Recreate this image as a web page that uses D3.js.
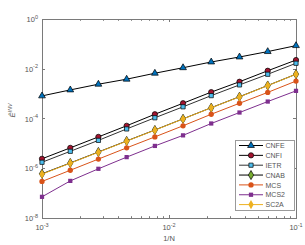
<!DOCTYPE html>
<html>
<head>
<meta charset="utf-8">
<script src="https://cdn.jsdelivr.net/npm/d3@7"></script>
<style>
  body { margin: 0; background: #fff; }
  svg { display: block; font-family: "Liberation Sans", Arial, sans-serif; }
</style>
</head>
<body>
<svg id="chart" width="305" height="245"></svg>
<script>
// step sizes 1/N
const invN = [0.001, 0.00167, 0.00278, 0.00464, 0.00774, 0.0129, 0.0215, 0.0359, 0.0599, 0.1];

const cnfe = [8.1e-4, 1.41e-3, 2.39e-3, 3.8e-3, 6.6e-3, 1.1e-2, 1.87e-2, 2.97e-2, 4.9e-2, 8.5e-2];
const cnfi = [2.4e-6, 6.6e-6, 1.82e-5, 5.1e-5, 1.48e-4, 4.1e-4, 1.15e-3, 3.0e-3, 8.3e-3, 2.24e-2];
const ietr = [1.74e-6, 4.8e-6, 1.32e-5, 3.8e-5, 1.07e-4, 2.95e-4, 8.3e-4, 2.24e-3, 6.0e-3, 1.66e-2];
const cnab = [6.0e-7, 1.63e-6, 4.5e-6, 1.25e-5, 3.45e-5, 9.7e-5, 2.72e-4, 7.5e-4, 2.12e-3, 6.05e-3];
const mcs = [2.95e-7, 8.3e-7, 2.34e-6, 6.6e-6, 1.82e-5, 5.1e-5, 1.48e-4, 4.1e-4, 1.12e-3, 3.2e-3];
const mcs2 = [7.1e-8, 3.1e-7, 9.5e-7, 2.8e-6, 7.9e-6, 2.1e-5, 6.3e-5, 1.74e-4, 4.8e-4, 1.29e-3];
const sc2a = [5.8e-7, 1.6e-6, 4.4e-6, 1.23e-5, 3.4e-5, 9.6e-5, 2.7e-4, 7.4e-4, 2.1e-3, 6.0e-3];

const xTicks = [1e-3, 1e-2, 1e-1];
const xTickExp = ['-3', '-2', '-1'];
const yTicks = [1e0, 1e-2, 1e-4, 1e-6, 1e-8];
const yTickExp = ['0', '-2', '-4', '-6', '-8'];

const series = [
  {name: 'CNFE', values: cnfe, line: '#000', fill: '#0072BD', edge: '#000', shape: 'triangle'},
  {name: 'CNFI', values: cnfi, line: '#000', fill: '#A2142F', edge: '#000', shape: 'circle'},
  {name: 'IETR', values: ietr, line: '#333', fill: '#4DBEEE', edge: '#000', shape: 'square'},
  {name: 'CNAB', values: cnab, line: '#000', fill: '#77AC30', edge: '#000', shape: 'diamond'},
  {name: 'MCS', values: mcs, line: '#D95319', fill: '#D95319', edge: 'none', shape: 'circle'},
  {name: 'MCS2', values: mcs2, line: '#7E2F8E', fill: '#7E2F8E', edge: 'none', shape: 'square'},
  {name: 'SC2A', values: sc2a, line: '#EDB120', fill: '#EDB120', edge: 'none', shape: 'diamond'}
];

const margin = {top: 19, right: 9, bottom: 27, left: 42};
const svg = d3.select('#chart');
const W = +svg.attr('width'), H = +svg.attr('height');
const w = W - margin.left - margin.right;
const h = H - margin.top - margin.bottom;
const axisColor = '#7a7a7a';
const textColor = '#555';

const x = d3.scaleLog().domain([1e-3, 1e-1]).range([0, w]);
const y = d3.scaleLog().domain([1e-8, 1e0]).range([h, 0]);

const g = svg.append('g').attr('transform', `translate(${margin.left},${margin.top})`);

// minor x ticks
const xMinor = x.ticks().filter(t => !xTicks.some(m => Math.abs(m - t) / m < 1e-6));

function drawAxes() {
  const axes = g.append('g').attr('class', 'axes');
  axes.append('rect').attr('x', 0.5).attr('y', 0.5).attr('width', w).attr('height', h)
      .attr('fill', 'none').attr('stroke', axisColor).attr('stroke-width', 1);
  // x ticks bottom + top
  [[h, -1], [0, 1]].forEach(([y0, dir]) => {
    axes.selectAll(null).data(xTicks).enter().append('line')
        .attr('x1', d => Math.round(x(d)) + 0.5).attr('x2', d => Math.round(x(d)) + 0.5)
        .attr('y1', y0).attr('y2', y0 + dir * 3).attr('stroke', axisColor);
    axes.selectAll(null).data(xMinor).enter().append('line')
        .attr('x1', d => Math.round(x(d)) + 0.5).attr('x2', d => Math.round(x(d)) + 0.5)
        .attr('y1', y0).attr('y2', y0 + dir * 1.8).attr('stroke', axisColor);
  });
  // y ticks left + right
  [[0, 1], [w, -1]].forEach(([x0, dir]) => {
    axes.selectAll(null).data(yTicks).enter().append('line')
        .attr('y1', d => Math.round(y(d)) + 0.5).attr('y2', d => Math.round(y(d)) + 0.5)
        .attr('x1', x0).attr('x2', x0 + dir * 3).attr('stroke', axisColor);
  });

  const xl = axes.selectAll(null).data(xTicks).enter().append('text')
      .attr('x', d => x(d)).attr('y', h + 12)
      .attr('text-anchor', 'middle').attr('font-size', 7.5).attr('fill', textColor);
  xl.append('tspan').text('10');
  xl.append('tspan').attr('dy', -3.5).attr('font-size', 5.5).text((d, i) => xTickExp[i]);

  const yl = axes.selectAll(null).data(yTicks).enter().append('text')
      .attr('x', -4).attr('y', d => y(d) + 3)
      .attr('text-anchor', 'end').attr('font-size', 7.5).attr('fill', textColor);
  yl.append('tspan').text('10');
  yl.append('tspan').attr('dy', -3.5).attr('font-size', 5.5).text((d, i) => yTickExp[i]);

  axes.append('text').attr('x', w / 2).attr('y', h + 23)
      .attr('text-anchor', 'middle').attr('font-size', 7.5).attr('fill', textColor).text('1/N');
  const yt = axes.append('text')
      .attr('transform', `translate(${-27},${h / 2 - 8}) rotate(-90)`)
      .attr('text-anchor', 'middle').attr('font-size', 7.5).attr('fill', textColor)
      .attr('font-style', 'italic');
  yt.append('tspan').text('Ê');
  yt.append('tspan').attr('dy', -3).attr('font-size', 5.5).text('INV');
}

function symbolFor(shape) {
  if (shape === 'triangle') return d3.symbol(d3.symbolTriangle, 20);
  if (shape === 'circle') return d3.symbol(d3.symbolCircle, 22);
  if (shape === 'square') return d3.symbol(d3.symbolSquare, 18);
  return d3.symbol(d3.symbolDiamond, 24);
}

function drawSeries() {
  const line = d3.line().x(d => x(d[0])).y(d => y(d[1]));
  series.forEach(s => {
    const pts = invN.map((v, i) => [v, s.values[i]]);
    const sg = g.append('g').attr('class', 'series');
    sg.append('path').datum(pts).attr('d', line)
        .attr('fill', 'none').attr('stroke', s.line).attr('stroke-width', 1);
    sg.selectAll('path.m').data(pts).enter().append('path').attr('class', 'm')
        .attr('transform', d => `translate(${x(d[0])},${y(d[1])})`)
        .attr('d', symbolFor(s.shape))
        .attr('fill', s.fill).attr('stroke', s.edge).attr('stroke-width', 0.7);
  });
}

function drawLegend() {
  const lx = 193.5, ly = 121.5, lw = 59, lh = 70;
  const lg = g.append('g').attr('transform', `translate(${lx},${ly})`);
  lg.append('rect').attr('width', lw).attr('height', lh)
      .attr('fill', '#fff').attr('stroke', '#9a9a9a').attr('stroke-width', 1);
  series.forEach((s, i) => {
    const yy = 5 + i * 9.85;
    const row = lg.append('g').attr('transform', `translate(0,${yy})`);
    row.append('line').attr('x1', 3.5).attr('x2', 27.5).attr('y1', 0).attr('y2', 0)
        .attr('stroke', s.line).attr('stroke-width', 1);
    row.append('path').attr('transform', 'translate(15.5,0)').attr('d', symbolFor(s.shape))
        .attr('fill', s.fill).attr('stroke', s.edge).attr('stroke-width', 0.7);
    row.append('text').attr('x', 30).attr('y', 2.6).attr('font-size', 7)
        .attr('fill', textColor).text(s.name);
  });
}

drawAxes();
drawSeries();
drawLegend();
</script>
</body>
</html>
